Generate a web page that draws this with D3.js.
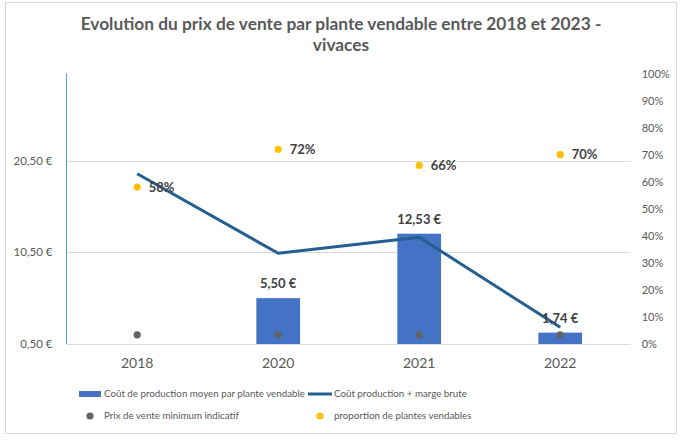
<!DOCTYPE html>
<html><head><meta charset="utf-8">
<script src="https://cdn.jsdelivr.net/npm/d3@7"></script>
<style>body{margin:0;background:#fff}svg{display:block}text{font-family:Lato,"Open Sans",sans-serif}</style>
</head><body><svg id="c" width="682" height="441"></svg>
<script>
const years = ["2018","2020","2021","2022"];
const coutProduction = [null, 5.50, 12.53, 1.74];
const coutMarge = [19.07, 10.39, 12.14, 2.32];
const prixMin = [1.5, 1.5, 1.5, 1.5];
const proportion = [0.58, 0.72, 0.66, 0.70];
const leftTicks = [0.5, 10.5, 20.5];
const rightTicks = [0,0.1,0.2,0.3,0.4,0.5,0.6,0.7,0.8,0.9,1.0];
const titleLines = ["Evolution du prix de vente par plante vendable entre 2018 et 2023 -", "vivaces"];
const legendLabels = ["Coût de production moyen par plante vendable","Coût production + marge brute","Prix de vente minimum indicatif","proportion de plantes vendables"];

const svg = d3.select("#c");
const fmtEuro = v => d3.format(".2f")(v).replace(".", ",") + " €";
const fmtPct = v => Math.round(v*100) + "%";

svg.append("rect").attr("x",5.5).attr("y",2.5).attr("width",671).attr("height",431)
  .attr("fill","#fff").attr("stroke","#d9d9d9");

function fit(sel, target){
  const w = sel.node().getComputedTextLength();
  const fs = parseFloat(sel.attr("font-size"));
  sel.attr("font-size", fs*target/w);
}

// title
const t1 = svg.append("text").attr("x",341).attr("y",30).attr("text-anchor","middle")
  .attr("font-size",16).attr("font-weight","bold").attr("fill","#595959").text(titleLines[0]);
fit(t1, 521);
svg.append("text").attr("x",341).attr("y",50.5).attr("text-anchor","middle")
  .attr("font-size",t1.attr("font-size")).attr("font-weight","bold").attr("fill","#595959").text(titleLines[1]);

const x = d3.scaleBand().domain(years).range([66.7, 630.7]).paddingInner(0.69).paddingOuter(0.345);
const xc = d => x(d) + x.bandwidth()/2;
const y = d3.scaleLinear().domain([0.5, 30]).range([344, 73.5]);
const y2 = d3.scaleLinear().domain([0, 1]).range([344, 73.5]);

// gridlines
svg.append("g").selectAll("line").data(leftTicks).join("line")
  .attr("x1",66.7).attr("x2",630.7).attr("y1",d=>Math.round(y(d))+0.5).attr("y2",d=>Math.round(y(d))+0.5)
  .attr("stroke","#d9d9d9").attr("stroke-width",1);

// left axis
const la = svg.append("g").attr("transform","translate(66.5,0)")
  .call(d3.axisLeft(y).tickValues(leftTicks).tickFormat(fmtEuro).tickSize(0).tickPadding(14));
la.select(".domain").attr("stroke","#5b9bd5").attr("d","M0,73.5V344");
la.selectAll("text").attr("font-size",11.5).attr("fill","#595959").attr("font-family","Lato,sans-serif");

// right axis
const ra = svg.append("g").attr("transform","translate(630.7,0)")
  .call(d3.axisRight(y2).tickValues(rightTicks).tickFormat(fmtPct).tickSize(0).tickPadding(11));
ra.select(".domain").remove();
ra.selectAll("text").attr("font-size",11).attr("fill","#595959").attr("font-family","Lato,sans-serif");

// x axis labels
const xa = svg.append("g").attr("transform","translate(0,344)")
  .call(d3.axisBottom(x).tickSize(0).tickPadding(14));
xa.select(".domain").remove();
xa.selectAll("text").attr("font-size",14).attr("fill","#595959").attr("font-family","Lato,sans-serif");

// bars
const barData = years.map((yr,i)=>({yr, v:coutProduction[i]})).filter(d=>d.v!=null);
svg.append("g").selectAll("rect").data(barData).join("rect")
  .attr("x",d=>x(d.yr)).attr("width",x.bandwidth())
  .attr("y",d=>y(d.v)).attr("height",d=>y(0.5)-y(d.v)).attr("fill","#4472c4");

// line
const lineData = years.map((yr,i)=>({yr, v:coutMarge[i]}));
svg.append("path").datum(lineData)
  .attr("d", d3.line().x(d=>xc(d.yr)).y(d=>y(d.v)))
  .attr("fill","none").attr("stroke","#255e91").attr("stroke-width",3).attr("stroke-linejoin","round");

// bar labels
svg.append("g").selectAll("text").data(barData).join("text")
  .attr("x",d=>xc(d.yr)).attr("y",d=>y(d.v)-10).attr("text-anchor","middle")
  .attr("font-size",13).attr("font-weight","bold").attr("fill","#404040").text(d=>fmtEuro(d.v));

// grey dots
svg.append("g").selectAll("circle").data(years.map((yr,i)=>({yr,v:prixMin[i]}))).join("circle")
  .attr("cx",d=>xc(d.yr)).attr("cy",d=>y(d.v)).attr("r",3.6).attr("fill","#636363");

// yellow dots
const pData = years.map((yr,i)=>({yr,v:proportion[i]}));
svg.append("g").selectAll("circle").data(pData).join("circle")
  .attr("cx",d=>xc(d.yr)).attr("cy",d=>y2(d.v)).attr("r",3.6).attr("fill","#ffc000");
svg.append("g").selectAll("text").data(pData).join("text")
  .attr("x",d=>xc(d.yr)+11.5).attr("y",d=>y2(d.v)).attr("dy","0.36em")
  .attr("font-size",13).attr("font-weight","bold").attr("fill","#404040").text(d=>fmtPct(d.v));

// legend
const lg = svg.append("g");
lg.append("rect").attr("x",79).attr("y",391).attr("width",22).attr("height",6).attr("fill","#4472c4");
lg.append("line").attr("x1",308).attr("x2",332).attr("y1",394).attr("y2",394).attr("stroke","#255e91").attr("stroke-width",3);
lg.append("circle").attr("cx",90).attr("cy",416).attr("r",3.6).attr("fill","#636363");
lg.append("circle").attr("cx",320).attr("cy",416).attr("r",3.6).attr("fill","#ffc000");
const lpos = [[104,394],[334,394],[104,416],[334,416]];
const lt = lg.selectAll("text").data(legendLabels).join("text")
  .attr("x",(d,i)=>lpos[i][0]).attr("y",(d,i)=>lpos[i][1]).attr("dy","0.35em")
  .attr("font-size",11).attr("fill","#595959").text(d=>d);
fit(d3.select(lt.nodes()[0]), 201);
const lfs = d3.select(lt.nodes()[0]).attr("font-size");
lt.attr("font-size", lfs);
</script></body></html>
